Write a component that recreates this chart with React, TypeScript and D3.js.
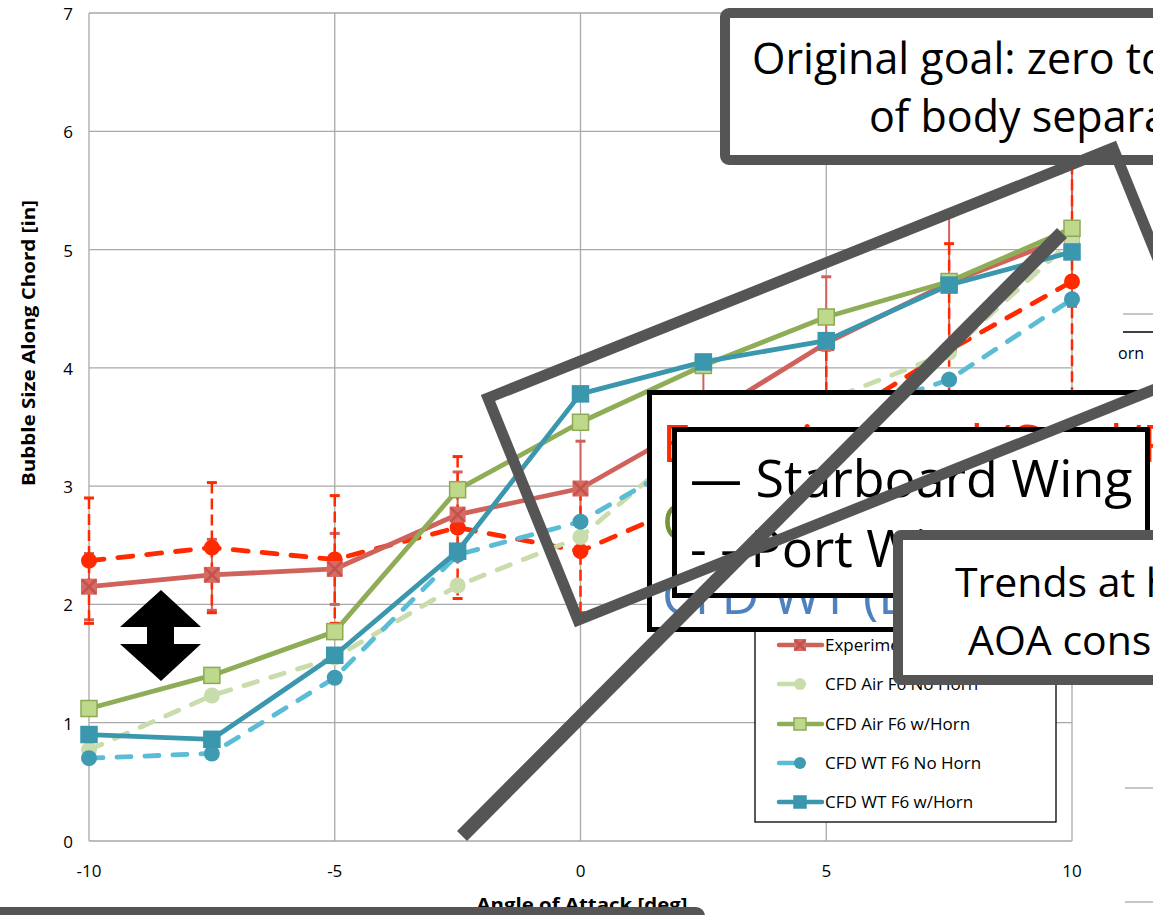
import React from 'react';
import * as d3 from 'd3';

// ---------- data ----------
const aoa = [-10, -7.5, -5, -2.5, 0, 2.5, 5, 7.5, 10];
const expStbd = [2.15, 2.25, 2.3, 2.76, 2.98, 3.57, 4.21, 4.72, 5.12];
const expStbdErr = [0.28, 0.3, 0.3, 0.36, 0.4, 0.42, 0.56, 0.56, 0.6];
const expPort = [2.37, 2.48, 2.38, 2.65, 2.45, 2.9, 3.5, 4.15, 4.73];
const expPortErr = [0.53, 0.55, 0.54, 0.6, 0.52, 0.6, 0.65, 0.9, 1.0];
const cfdAirNoHorn = [0.77, 1.23, 1.55, 2.16, 2.57, 3.45, 3.72, 4.13, 5.08];
const cfdAirHorn = [1.12, 1.4, 1.77, 2.97, 3.54, 4.02, 4.43, 4.73, 5.18];
const cfdWtNoHorn = [0.7, 0.74, 1.38, 2.42, 2.7, 3.3, 3.55, 3.9, 4.58];
const cfdWtHorn = [0.9, 0.86, 1.57, 2.45, 3.78, 4.05, 4.23, 4.7, 4.98];

const xTicks = [-10, -5, 0, 5, 10];
const yTicks = [0, 1, 2, 3, 4, 5, 6, 7];
const legendNames = [
  'Experimental',
  'CFD Air F6 No Horn',
  'CFD Air F6 w/Horn',
  'CFD WT F6 No Horn',
  'CFD WT F6 w/Horn',
];

const FONT = "'Open Sans', 'Noto Sans', sans-serif";
const GRAY = '#555555';

type Series = {
  values: number[];
  color: string;
  marker: 'xsq' | 'circle' | 'square';
  markerFill: string;
  markerStroke: string;
  dash?: string;
};

const series: Series[] = [
  { values: expPort, color: '#FF2A00', marker: 'circle', markerFill: '#FF2A00', markerStroke: '#FF2A00', dash: '15,14' },
  { values: expStbd, color: '#D0625C', marker: 'xsq', markerFill: '#D66B63', markerStroke: '#C4524C' },
  { values: cfdAirNoHorn, color: '#C9DCAB', marker: 'circle', markerFill: '#C9DCAB', markerStroke: '#C9DCAB', dash: '14,14' },
  { values: cfdAirHorn, color: '#8FAD57', marker: 'square', markerFill: '#BFD98C', markerStroke: '#8DAA55' },
  { values: cfdWtNoHorn, color: '#5ABCD5', marker: 'circle', markerFill: '#3F9BB2', markerStroke: '#3F9BB2', dash: '14,14' },
  { values: cfdWtHorn, color: '#3A97AD', marker: 'square', markerFill: '#3A97AD', markerStroke: '#3A97AD' },
];
const legendSeries = series.slice(1);

function Marker({ s, cx, cy, k }: { s: Series; cx: number; cy: number; k: number }) {
  const r = 8 * k;
  if (s.marker === 'circle') return <circle cx={cx} cy={cy} r={r} fill={s.markerFill} />;
  if (s.marker === 'square')
    return (
      <rect x={cx - r} y={cy - r} width={2 * r} height={2 * r} fill={s.markerFill} stroke={s.markerStroke} strokeWidth={1.5} />
    );
  return (
    <g>
      <rect x={cx - r} y={cy - r} width={2 * r} height={2 * r} fill={s.markerFill} />
      <path
        d={`M${cx - r + 1},${cy - r + 1}L${cx + r - 1},${cy + r - 1}M${cx + r - 1},${cy - r + 1}L${cx - r + 1},${cy + r - 1}`}
        stroke={s.markerStroke}
        strokeWidth={2.5}
      />
    </g>
  );
}

export default function App() {
  const W = 1153;
  const H = 915;
  const x = d3.scaleLinear().domain([-10, 10]).range([89, 1072]);
  const y = d3.scaleLinear().domain([0, 7]).range([841, 13]);
  const line = d3
    .line<number>()
    .x((_, i) => x(aoa[i]))
    .y((d) => y(d));

  const errBars = (vals: number[], errs: number[], color: string, dash: string | undefined, w: number) =>
    vals.map((v, i) => {
      const cx = x(aoa[i]);
      const y1 = y(v + errs[i]);
      const y2 = y(v - errs[i]);
      return (
        <g key={i}>
          <line x1={cx} x2={cx} y1={y1} y2={y2} stroke={color} strokeWidth={w} strokeDasharray={dash} />
          <line x1={cx - 5} x2={cx + 5} y1={y1} y2={y1} stroke={color} strokeWidth={3} />
          <line x1={cx - 5} x2={cx + 5} y1={y2} y2={y2} stroke={color} strokeWidth={3} />
        </g>
      );
    });

  const legendRowY = [645, 684, 724, 763, 802];

  // quadrilateral outline
  const A: [number, number] = [488, 398];
  const B: [number, number] = [1113, 148];
  const D: [number, number] = [578, 620];
  const C: [number, number] = [B[0] + D[0] - A[0], B[1] + D[1] - A[1]];

  return (
    <svg
      width={W}
      height={H}
      viewBox={`0 0 ${W} ${H}`}
      style={{ position: 'absolute', left: 0, top: 0, background: '#fff' }}
      fontFamily={FONT}
    >
      <rect x={0} y={0} width={W} height={H} fill="#fff" />

      {/* grid */}
      {yTicks.map((t) => (
        <line key={'gy' + t} x1={x(-10)} x2={x(10)} y1={y(t)} y2={y(t)} stroke="#A9A9A9" strokeWidth={1.3} />
      ))}
      {xTicks.map((t) => (
        <line key={'gx' + t} x1={x(t)} x2={x(t)} y1={y(7)} y2={y(0)} stroke="#A9A9A9" strokeWidth={1.3} />
      ))}

      {/* tick labels */}
      {yTicks.map((t) => (
        <text key={'ly' + t} x={73} y={y(t) + 7} textAnchor="end" fontSize={17} fill="#000">
          {t}
        </text>
      ))}
      {xTicks.map((t) => (
        <text key={'lx' + t} x={x(t)} y={877} textAnchor="middle" fontSize={17} fill="#000">
          {t}
        </text>
      ))}

      {/* axis titles */}
      <text
        transform={`translate(35,343) rotate(-90)`}
        textAnchor="middle"
        fontSize={17}
        fontWeight="bold"
        textLength={286}
        lengthAdjust="spacingAndGlyphs"
      >
        Bubble Size Along Chord [in]
      </text>
      <text x={582} y={911} textAnchor="middle" fontSize={17} fontWeight="bold" textLength={211} lengthAdjust="spacingAndGlyphs">
        Angle of Attack [deg]
      </text>

      {/* error bars */}
      {errBars(expStbd, expStbdErr, '#D0625C', undefined, 2)}
      {errBars(expPort, expPortErr, '#FF2A00', '11,5', 2.5)}

      {/* series lines */}
      {series.map((s, i) => (
        <path
          key={'l' + i}
          d={line(s.values) || ''}
          fill="none"
          stroke={s.color}
          strokeWidth={4.8}
          strokeDasharray={s.dash}
          strokeLinecap={s.dash ? 'round' : 'butt'}
          strokeLinejoin="round"
        />
      ))}
      {series.map((s, i) => (
        <g key={'m' + i}>
          {s.values.map((v, j) => (
            <Marker key={j} s={s} cx={x(aoa[j])} cy={y(v)} k={1} />
          ))}
        </g>
      ))}

      {/* legend */}
      <rect x={755} y={600} width={301} height={222} fill="#fff" stroke="#000" strokeWidth={1.3} />
      {legendSeries.map((s, i) => (
        <g key={'lg' + i}>
          <line
            x1={779}
            x2={s.dash ? 800 : 822}
            y1={legendRowY[i]}
            y2={legendRowY[i]}
            stroke={s.color}
            strokeWidth={4.5}
            strokeLinecap="round"
          />
          <Marker s={s} cx={800} cy={legendRowY[i]} k={0.75} />
          <text x={825} y={legendRowY[i] + 6} fontSize={17}>
            {legendNames[i]}
          </text>
        </g>
      ))}

      {/* stray elements at right edge */}
      <line x1={1123} x2={1153} y1={314} y2={314} stroke="#A9A9A9" strokeWidth={1.3} />
      <line x1={1123} x2={1153} y1={332} y2={332} stroke="#000" strokeWidth={1.5} />
      <text x={1118} y={359} fontSize={16}>
        orn
      </text>
      <line x1={1125} x2={1153} y1={788} y2={788} stroke="#A9A9A9" strokeWidth={1.3} />
      <line x1={1125} x2={1153} y1={902} y2={902} stroke="#A9A9A9" strokeWidth={1.3} />

      {/* outer black box with coloured lines */}
      <rect x={649.5} y={392.5} width={560} height={237} fill="#fff" stroke="#000" strokeWidth={5} />
      <text x={662} y={462} fontSize={52} fill="#FF2A00">
        Experimental (Stbd/Port)
      </text>
      <text x={662} y={540} fontSize={52} fill="#77933C">
        CFD Air (Low Re)
      </text>
      <text x={662} y={614} fontSize={52} fill="#4F81BD">
        CFD WT (Low Re)
      </text>

      {/* inner legend-like box */}
      <rect x={674.5} y={429.5} width={473} height={166} fill="#fff" stroke="#000" strokeWidth={5} />
      <text x={690} y={497} fontSize={52}>
        — Starboard Wing
      </text>
      <text x={690} y={567} fontSize={52}>
        - - Port Wing
      </text>

      {/* Trends box */}
      <rect x={898} y={535} width={300} height={145} rx={3} fill="#fff" stroke={GRAY} strokeWidth={10} />
      <text x={955} y={597} fontSize={41}>
        Trends at h
      </text>
      <text x={968} y={655} fontSize={41}>
        AOA cons
      </text>

      {/* top box */}
      <rect x={725} y={13} width={500} height={147} rx={4} fill="#fff" stroke={GRAY} strokeWidth={10} />
      <text x={752} y={74} fontSize={43}>
        Original goal: zero to
      </text>
      <text x={869} y={132} fontSize={43}>
        of body separa
      </text>

      {/* quadrilateral outline */}
      <path
        d={`M${A[0]},${A[1]}L${B[0]},${B[1]}L${C[0]},${C[1]}L${D[0]},${D[1]}Z`}
        fill="none"
        stroke={GRAY}
        strokeWidth={11}
        strokeLinejoin="miter"
      />

      {/* long diagonal */}
      <line x1={462} y1={836} x2={1062} y2={233} stroke={GRAY} strokeWidth={14} />

      {/* double arrow */}
      <path d="M161,590 L201,627 L174,627 L174,644 L201,644 L161,681 L120,644 L147,644 L147,627 L120,627 Z" fill="#000" />

      {/* bottom box */}
      <rect x={-20} y={912} width={720} height={60} rx={4} fill="#fff" stroke={GRAY} strokeWidth={10} />
    </svg>
  );
}
